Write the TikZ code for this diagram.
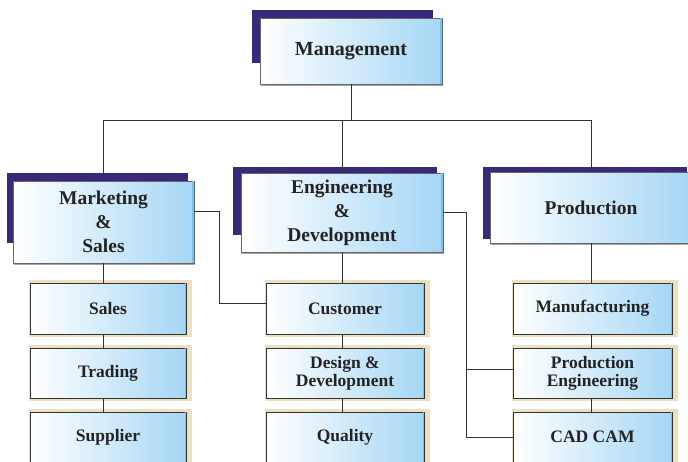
\documentclass[tikz,border=0pt]{standalone}
\usepackage{fontspec}
\newfontfamily\tf{Liberation Serif}
\usetikzlibrary{calc,shadows,backgrounds}
\definecolor{boxblue}{RGB}{165,214,245}
\definecolor{edgeblue}{RGB}{120,190,238}
\definecolor{shadowpurple}{RGB}{58,40,122}
\definecolor{tanc}{RGB}{236,224,192}
\definecolor{linec}{RGB}{50,50,50}
\definecolor{txt}{RGB}{35,35,35}
\begin{document}
\begin{tikzpicture}[x=1pt,y=-1pt,
 titlebox/.style={draw=gray!80!black, line width=0.8pt, left color=white, right color=boxblue,
   inner sep=0pt, align=center, text=txt, font=\tf\bfseries\fontsize{19.5}{24}\selectfont,
   general shadow={fill=gray!70, shadow xshift=1pt, shadow yshift=-2pt}},
 subbox/.style={draw=linec, line width=0.9pt, left color=white, right color=boxblue,
   inner sep=0pt, align=center, text=txt, font=\tf\bfseries\fontsize{17.5}{18}\selectfont,
   minimum width=157pt, minimum height=50pt},
 conn/.style={draw=linec, line width=0.8pt},
 purpleshadow/.style={fill=shadowpurple},
 tanback/.style={fill=tanc},
 edgestripe/.style={draw=edgeblue, line width=1.3pt}]
\useasboundingbox (0,0) rectangle (688,461);
\clip (0,0) rectangle (688,461);

% purple offset shadows of the title boxes
\fill[purpleshadow] (252,10) rectangle (433,63);
\fill[purpleshadow] (7,173) rectangle (188,243);
\fill[purpleshadow] (233,167) rectangle (437,235);
\fill[purpleshadow] (483,167) rectangle (687,239);

% title boxes
\node[titlebox, minimum width=182pt, minimum height=66pt, font=\tf\bfseries\fontsize{20}{24}\selectfont] (mgmt) at (351,51) {Management};
\node[titlebox, minimum width=181pt, minimum height=82pt] (mkt) at (103.5,222) {Marketing\\\&\\Sales};
\node[titlebox, minimum width=202pt, minimum height=79pt] (eng) at (342,212.5) {Engineering\\\&\\Development};
\node[titlebox, minimum width=202pt, minimum height=71pt] (prod) at (591,207.5) {Production};

% sub boxes
\node[subbox, minimum width=156pt, minimum height=51pt] (sales) at (108,308.5) {Sales};
\node[subbox, minimum width=156pt] (trading) at (108,373) {Trading};
\node[subbox, minimum width=156pt] (supplier) at (108,437) {Supplier};
\node[subbox, minimum width=158pt, minimum height=51pt] (cust) at (345,308.5) {Customer};
\node[subbox, minimum width=158pt] (design) at (345,373) {Design \&\\Development};
\node[subbox, minimum width=158pt] (quality) at (345,437) {Quality};
\node[subbox, minimum width=159pt, minimum height=51pt] (manu) at (592.5,308.5) {Manufacturing};
\node[subbox, minimum width=159pt] (pe) at (592.5,373) {Production\\Engineering};
\node[subbox, minimum width=159pt] (cad) at (592.5,437) {CAD CAM};

% tan backing of the sub boxes
\begin{scope}[on background layer]
\foreach \n in {sales,trading,supplier,cust,design,quality,manu,pe,cad}
  \fill[tanback] ($(\n.north west)+(-1,-3)$) rectangle ($(\n.south east)+(6,3)$);
\end{scope}

% light blue stripe along right edges
\foreach \n in {mgmt,mkt,eng,prod,sales,trading,supplier,cust,design,quality,manu,pe,cad}
  \draw[edgestripe] ([xshift=-1.3pt,yshift=-0.6pt]\n.north east) -- ([xshift=-1.3pt,yshift=0.6pt]\n.south east);

% connectors
\coordinate (busL) at (103.5,120);
\coordinate (busR) at (591,120);
\draw[conn] (mgmt.south) -- (mgmt.south |- busL);
\draw[conn] (busL) -- (busR);
\draw[conn] (busL) -- (mkt.north);
\draw[conn] (eng.north |- busL) -- (eng.north);
\draw[conn] (busR) -- (prod.north);

\draw[conn] (mkt.south) -- (mkt.south |- sales.north);
\draw[conn] (mkt.south |- sales.south) -- (mkt.south |- trading.north);
\draw[conn] (mkt.south |- trading.south) -- (mkt.south |- supplier.north);

\draw[conn] (eng.south) -- (eng.south |- cust.north);
\draw[conn] (eng.south |- cust.south) -- (eng.south |- design.north);
\draw[conn] (eng.south |- design.south) -- (eng.south |- quality.north);

\draw[conn] (prod.south) -- (prod.south |- manu.north);
\draw[conn] (prod.south |- manu.south) -- (prod.south |- pe.north);
\draw[conn] (prod.south |- pe.south) -- (prod.south |- cad.north);

\draw[conn] ([yshift=11pt]mkt.east) -- ++(25,0) |- ([yshift=5pt]cust.west);
\draw[conn] (eng.east) -- ++(23,0) coordinate (engdrop) |- ([yshift=4pt]pe.west);
\draw[conn] (engdrop) |- (cad.west);
\end{tikzpicture}
\end{document}
